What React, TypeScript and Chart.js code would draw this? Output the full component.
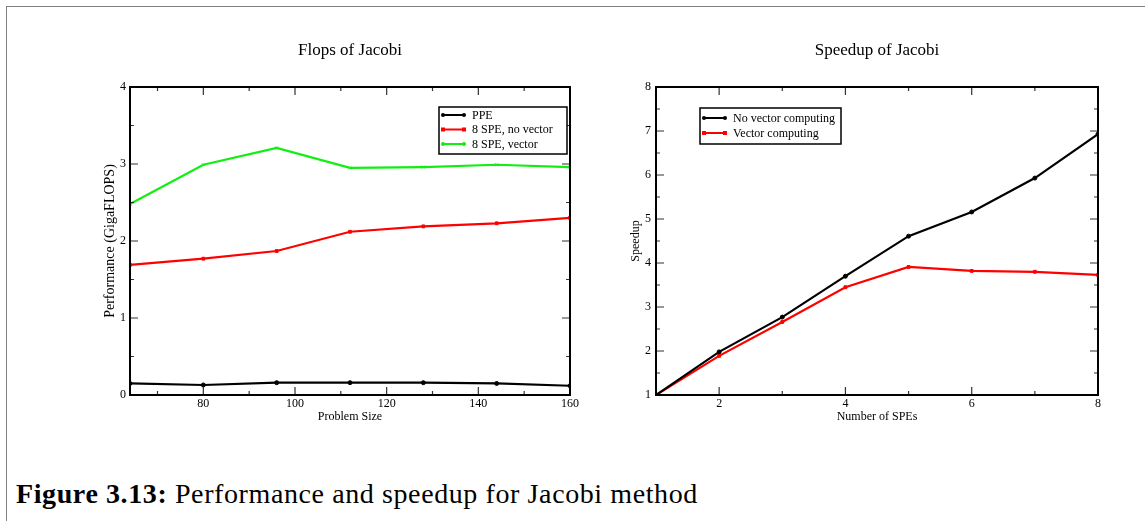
import React, { useEffect, useRef } from 'react';
import { Chart, registerables } from 'chart.js';

Chart.register(...registerables);

// ---------- data ----------
const problemSizes = [64, 80, 96, 112, 128, 144, 160];
const ppeFlops = [0.15, 0.13, 0.16, 0.16, 0.16, 0.15, 0.12];
const speNoVectorFlops = [1.69, 1.77, 1.87, 2.12, 2.19, 2.23, 2.3];
const speVectorFlops = [2.48, 2.99, 3.21, 2.95, 2.96, 2.99, 2.96];

const speCounts = [1, 2, 3, 4, 5, 6, 7, 8];
const speedupNoVector = [1, 1.98, 2.77, 3.7, 4.61, 5.16, 5.93, 6.93];
const speedupVector = [1, 1.89, 2.66, 3.45, 3.91, 3.82, 3.8, 3.73];

const flopsXMajor = [80, 100, 120, 140, 160];
const flopsXMinor = [70, 90, 110, 130, 150];
const flopsYMajor = [0, 1, 2, 3, 4];
const flopsYMinor = [0.5, 1.5, 2.5, 3.5];

const speedXMajor = [2, 4, 6, 8];
const speedXMinor = [1, 3, 5, 7];
const speedYMajor = [1, 2, 3, 4, 5, 6, 7, 8];
const speedYMinor = [1.5, 2.5, 3.5, 4.5, 5.5, 6.5, 7.5];

const FONT = "'Liberation Serif', 'Times New Roman', serif";

// ---------- plugins ----------
const frameTicksPlugin = {
  id: 'frameTicks',
  afterDatasetsDraw(chart: any, _args: any, opts: any) {
    const { ctx, chartArea } = chart;
    const { left, right, top, bottom } = chartArea;
    const xs = chart.scales.x;
    const ys = chart.scales.y;
    ctx.save();
    ctx.strokeStyle = '#333';
    ctx.lineWidth = 1.2;
    const major = 8;
    const minor = 4;
    const drawX = (vals: number[], len: number) => {
      vals.forEach((v) => {
        const px = xs.getPixelForValue(v);
        ctx.beginPath();
        ctx.moveTo(px, bottom);
        ctx.lineTo(px, bottom - len);
        ctx.moveTo(px, top);
        ctx.lineTo(px, top + len);
        ctx.stroke();
      });
    };
    const drawY = (vals: number[], len: number) => {
      vals.forEach((v) => {
        const py = ys.getPixelForValue(v);
        ctx.beginPath();
        ctx.moveTo(left, py);
        ctx.lineTo(left + len, py);
        ctx.moveTo(right, py);
        ctx.lineTo(right - len, py);
        ctx.stroke();
      });
    };
    drawX(opts.xMajor, major);
    drawX(opts.xMinor, minor);
    drawY(opts.yMajor, major);
    drawY(opts.yMinor, minor);
    ctx.strokeStyle = '#000';
    ctx.lineWidth = 2;
    ctx.strokeRect(left, top, right - left, bottom - top);
    ctx.restore();
  },
};

const boxLegendPlugin = {
  id: 'boxLegend',
  afterDraw(chart: any, _args: any, opts: any) {
    const { ctx, chartArea } = chart;
    const x0 = chartArea.left + opts.x;
    const y0 = chartArea.top + opts.y;
    ctx.save();
    ctx.fillStyle = '#fff';
    ctx.fillRect(x0, y0, opts.width, opts.height);
    ctx.strokeStyle = '#000';
    ctx.lineWidth = 1.5;
    ctx.strokeRect(x0, y0, opts.width, opts.height);
    ctx.font = `${opts.fontSize}px ${FONT}`;
    ctx.textBaseline = 'middle';
    ctx.textAlign = 'left';
    chart.data.datasets.forEach((ds: any, i: number) => {
      const cy = y0 + opts.firstRow + i * opts.rowHeight;
      const lx0 = x0 + 4;
      const lx1 = x0 + 25;
      ctx.strokeStyle = ds.borderColor;
      ctx.lineWidth = 2;
      ctx.beginPath();
      ctx.moveTo(lx0, cy);
      ctx.lineTo(lx1, cy);
      ctx.stroke();
      ctx.fillStyle = ds.borderColor;
      [lx0, lx1].forEach((mx) => {
        ctx.beginPath();
        if (ds.pointStyle === 'rect') {
          ctx.fillRect(mx - 2, cy - 2, 4, 4);
        } else {
          ctx.arc(mx, cy, 2, 0, Math.PI * 2);
          ctx.fill();
        }
      });
      ctx.fillStyle = '#000';
      ctx.fillText(ds.label, x0 + 33, cy + 0.5);
    });
    ctx.restore();
  },
};

// ---------- chart configs ----------
function lineDs(label: string, xs: number[], ys: number[], color: string, pointStyle: string) {
  return {
    label,
    data: xs.map((x, i) => ({ x, y: ys[i] })),
    borderColor: color,
    backgroundColor: color,
    borderWidth: 2.2,
    pointStyle,
    pointRadius: 2,
    pointBorderWidth: 1,
    tension: 0,
  };
}

function axisCommon() {
  return {
    type: 'linear' as const,
    grid: { display: false, drawTicks: false },
    border: { display: false },
  };
}

function flopsConfig(): any {
  return {
    type: 'line',
    data: {
      datasets: [
        lineDs('PPE', problemSizes, ppeFlops, '#000000', 'circle'),
        lineDs('8 SPE, no vector', problemSizes, speNoVectorFlops, '#ff0000', 'rect'),
        lineDs('8 SPE, vector', problemSizes, speVectorFlops, '#11ee11', 'crossRot'),
      ],
    },
    options: {
      animation: false,
      responsive: false,
      maintainAspectRatio: false,
      devicePixelRatio: 1,
      layout: { padding: { left: 90, right: 30, top: 0, bottom: 10 } },
      plugins: {
        legend: { display: false },
        tooltip: { enabled: false },
        title: {
          display: true,
          text: 'Flops of Jacobi',
          fullSize: false,
          color: '#000',
          font: { family: FONT, size: 17, weight: 'normal' },
          padding: { top: 40, bottom: 26.6 },
        },
        frameTicks: { xMajor: flopsXMajor, xMinor: flopsXMinor, yMajor: flopsYMajor, yMinor: flopsYMinor },
        boxLegend: { x: 309, y: 20, width: 128, height: 47, firstRow: 8, rowHeight: 14.5, fontSize: 12 },
      },
      scales: {
        x: {
          ...axisCommon(),
          min: 64,
          max: 160,
          afterBuildTicks: (s: any) => {
            s.ticks = flopsXMajor.map((v) => ({ value: v }));
          },
          afterFit: (s: any) => {
            s.height = 35;
          },
          ticks: { padding: 2, color: '#000', font: { family: FONT, size: 12 }, maxRotation: 0, autoSkip: false },
          title: {
            display: true,
            text: 'Problem Size',
            color: '#000',
            font: { family: FONT, size: 12 },
            padding: { top: 0, bottom: 6 },
          },
        },
        y: {
          ...axisCommon(),
          min: 0,
          max: 4,
          afterBuildTicks: (s: any) => {
            s.ticks = flopsYMajor.map((v) => ({ value: v }));
          },
          afterFit: (s: any) => {
            s.width = 40;
          },
          ticks: { padding: 4, color: '#000', font: { family: FONT, size: 12 } },
          title: {
            display: true,
            text: 'Performance (GigaFLOPS)',
            color: '#000',
            font: { family: FONT, size: 14 },
            padding: { top: 11.5, bottom: 0 },
          },
        },
      },
    },
    plugins: [frameTicksPlugin, boxLegendPlugin],
  };
}

function speedupConfig(): any {
  return {
    type: 'line',
    data: {
      datasets: [
        lineDs('No vector computing', speCounts, speedupNoVector, '#000000', 'circle'),
        lineDs('Vector computing', speCounts, speedupVector, '#ff0000', 'rect'),
      ],
    },
    options: {
      animation: false,
      responsive: false,
      maintainAspectRatio: false,
      devicePixelRatio: 1,
      layout: { padding: { left: 20, right: 47, top: 0, bottom: 10 } },
      plugins: {
        legend: { display: false },
        tooltip: { enabled: false },
        title: {
          display: true,
          text: 'Speedup of Jacobi',
          fullSize: false,
          color: '#000',
          font: { family: FONT, size: 17, weight: 'normal' },
          padding: { top: 40, bottom: 26.6 },
        },
        frameTicks: { xMajor: speedXMajor, xMinor: speedXMinor, yMajor: speedYMajor, yMinor: speedYMinor },
        boxLegend: { x: 44, y: 21, width: 141, height: 36, firstRow: 10, rowHeight: 15, fontSize: 12 },
      },
      scales: {
        x: {
          ...axisCommon(),
          min: 1,
          max: 8,
          afterBuildTicks: (s: any) => {
            s.ticks = speedXMajor.map((v) => ({ value: v }));
          },
          afterFit: (s: any) => {
            s.height = 35;
          },
          ticks: { padding: 2, color: '#000', font: { family: FONT, size: 12 }, maxRotation: 0, autoSkip: false },
          title: {
            display: true,
            text: 'Number of SPEs',
            color: '#000',
            font: { family: FONT, size: 12 },
            padding: { top: 0, bottom: 6 },
          },
        },
        y: {
          ...axisCommon(),
          min: 1,
          max: 8,
          afterBuildTicks: (s: any) => {
            s.ticks = speedYMajor.map((v) => ({ value: v }));
          },
          afterFit: (s: any) => {
            s.width = 36;
          },
          ticks: { padding: 5, color: '#000', font: { family: FONT, size: 12 } },
          title: {
            display: true,
            text: 'Speedup',
            color: '#000',
            font: { family: FONT, size: 12 },
            padding: { top: 9, bottom: 0 },
          },
        },
      },
    },
    plugins: [frameTicksPlugin, boxLegendPlugin],
  };
}

function ChartCanvas(props: { make: () => any; left: number; top: number; width: number; height: number }) {
  const ref = useRef<HTMLCanvasElement>(null);
  useEffect(() => {
    const chart = new Chart(ref.current as HTMLCanvasElement, props.make());
    return () => chart.destroy();
  }, []);
  return (
    <canvas
      ref={ref}
      width={props.width}
      height={props.height}
      style={{
        position: 'absolute',
        left: props.left,
        top: props.top,
        width: props.width,
        height: props.height,
      }}
    />
  );
}

export default function App() {
  return (
    <div
      style={{
        position: 'absolute',
        left: 0,
        top: 0,
        width: 1145,
        height: 521,
        overflow: 'hidden',
        background: '#fff',
      }}
    >
      <div
        style={{
          position: 'absolute',
          left: 6,
          top: 6,
          width: 1139,
          height: 515,
          borderLeft: '1.5px solid #808080',
          borderTop: '1.5px solid #808080',
          boxSizing: 'border-box',
        }}
      />
      <ChartCanvas make={flopsConfig} left={0} top={0} width={600} height={440} />
      <ChartCanvas make={speedupConfig} left={600} top={0} width={545} height={440} />
      <div
        style={{
          position: 'absolute',
          left: 16,
          top: 478,
          fontFamily: FONT,
          fontSize: 28,
          lineHeight: '32px',
          letterSpacing: '0.6px',
          color: '#000',
          whiteSpace: 'nowrap',
        }}
      >
        <b>Figure 3.13:</b> Performance and speedup for Jacobi method
      </div>
    </div>
  );
}
